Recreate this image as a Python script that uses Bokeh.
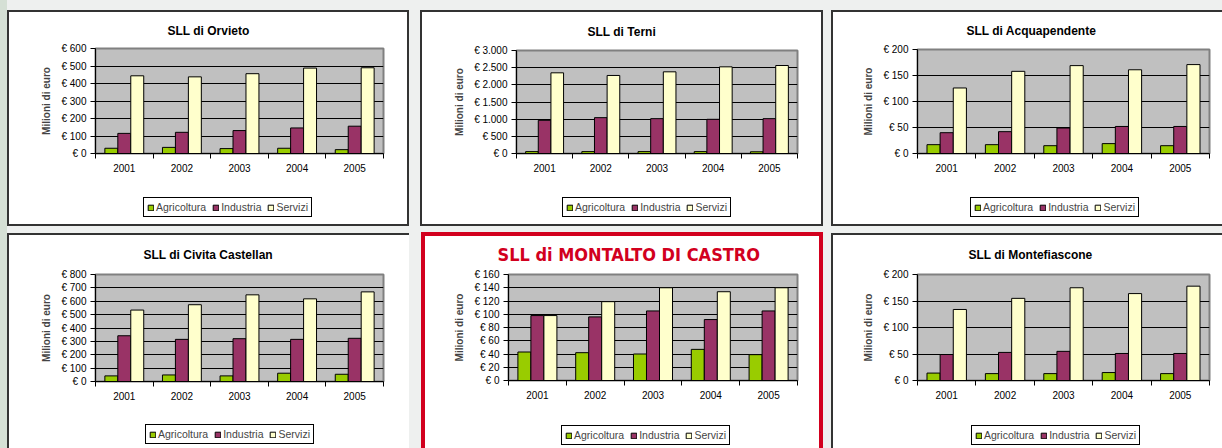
from bokeh.plotting import figure
from bokeh.models import (Range1d, FixedTicker, Legend, LegendItem, ColumnDataSource)
from bokeh.transform import dodge
from bokeh.embed import file_html
from bokeh.resources import INLINE

years = ["2001", "2002", "2003", "2004", "2005"]
series_names = ["Agricoltura", "Industria", "Servizi"]
series_colors = ["#99cc00", "#993366", "#ffffcc"]

orvieto_agricoltura = [30, 35, 28, 30, 22]
orvieto_industria = [115, 121, 131, 146, 156]
orvieto_servizi = [444, 438, 456, 488, 490]
orvieto_ticks = [0, 100, 200, 300, 400, 500, 600]
orvieto_labels = ["€ 0", "€ 100", "€ 200", "€ 300", "€ 400", "€ 500", "€ 600"]

terni_agricoltura = [55, 55, 55, 55, 50]
terni_industria = [967, 1044, 1015, 996, 1015]
terni_servizi = [2350, 2273, 2379, 2524, 2563]
terni_ticks = [0, 500, 1000, 1500, 2000, 2500, 3000]
terni_labels = ["€ 0", "€ 500", "€ 1.000", "€ 1.500", "€ 2.000", "€ 2.500", "€ 3.000"]

acquapendente_agricoltura = [17, 17, 15, 19, 15]
acquapendente_industria = [40, 42, 49, 52, 52]
acquapendente_servizi = [126, 158, 169, 161, 171]
acquapendente_ticks = [0, 50, 100, 150, 200]
acquapendente_labels = ["€ 0", "€ 50", "€ 100", "€ 150", "€ 200"]

civita_agricoltura = [42, 49, 42, 62, 54]
civita_industria = [342, 315, 320, 315, 323]
civita_servizi = [534, 574, 648, 618, 670]
civita_ticks = [0, 100, 200, 300, 400, 500, 600, 700, 800]
civita_labels = ["€ 0", "€ 100", "€ 200", "€ 300", "€ 400", "€ 500", "€ 600", "€ 700", "€ 800"]

montalto_agricoltura = [43, 42, 40, 47, 39]
montalto_industria = [98, 96, 105, 92, 105]
montalto_servizi = [98, 119, 140, 134, 140]
montalto_ticks = [0, 20, 40, 60, 80, 100, 120, 140, 160]
montalto_labels = ["€ 0", "€ 20", "€ 40", "€ 60", "€ 80", "€ 100", "€ 120", "€ 140", "€ 160"]

montefiascone_agricoltura = [14, 13, 13, 15, 13]
montefiascone_industria = [49, 53, 55, 51, 51]
montefiascone_servizi = [134, 155, 175, 164, 178]
montefiascone_ticks = [0, 50, 100, 150, 200]
montefiascone_labels = ["€ 0", "€ 50", "€ 100", "€ 150", "€ 200"]

FONT = "Liberation Sans"
NARROW = "Liberation Sans Narrow, DejaVu Sans Condensed, sans-serif"
BORDER = "#333333"
RED = "#d2001e"
PAGE_BG = "linear-gradient(to right, #d5e0d5 7px, #eef0ef 7px)"


def shadow(color, width, sides):
    parts = []
    if "l" in sides:
        parts.append(f"inset {width}px 0 0 0 {color}")
    if "t" in sides:
        parts.append(f"inset 0 {width}px 0 0 {color}")
    if "r" in sides:
        parts.append(f"inset -{width}px 0 0 0 {color}")
    if "b" in sides:
        parts.append(f"inset 0 -{width}px 0 0 {color}")
    return ", ".join(parts)


def make_panel(title, agri, ind, serv, ticks, labels, left, top, w, h, fl, fw, ft, fh,
               title_left, title_gap, sides, border_color=BORDER, border_w=2,
               title_font=FONT, title_size="12px", title_color="black"):
    n = len(years)
    src = ColumnDataSource(dict(x=[i + 0.5 for i in range(n)], a=agri, b=ind, c=serv))
    p = figure(width=w, height=h, x_range=Range1d(0, n),
               y_range=Range1d(ticks[0], ticks[-1]),
               output_backend="svg", toolbar_location=None,
               min_border_left=fl, min_border_right=w - fl - fw,
               min_border_top=ft, min_border_bottom=h - ft - fh,
               border_fill_alpha=0, background_fill_color="#c0c0c0",
               outline_line_color="#808080", outline_line_width=2,
               styles={"position": "absolute", "left": f"{left}px", "top": f"{top}px",
                       "background-color": "white",
                       "box-shadow": shadow(border_color, border_w, sides)})
    bw = 0.225
    for col, off, color in zip(["a", "b", "c"], [-bw, 0, bw], series_colors):
        p.vbar(x=dodge("x", off, range=p.x_range), top=col, width=bw,
               source=src, fill_color=color, line_color="black", line_width=1)

    # x axis: year labels at category centres, tick marks at category boundaries
    xt = FixedTicker(ticks=[i + 0.5 for i in range(n)], minor_ticks=list(range(n + 1)))
    p.xaxis.ticker = xt
    p.xaxis.major_label_overrides = {i + 0.5: y for i, y in enumerate(years)}
    p.xaxis.major_tick_out = 0
    p.xaxis.major_tick_in = 0
    p.xaxis.minor_tick_out = 5
    p.xaxis.minor_tick_in = 0
    p.xaxis.minor_tick_line_color = "black"
    p.xaxis.major_label_standoff = 5
    p.xgrid.visible = False

    yt = FixedTicker(ticks=ticks, minor_ticks=[])
    p.yaxis.ticker = yt
    p.yaxis.major_label_overrides = {t: l for t, l in zip(ticks, labels)}
    p.yaxis.major_tick_out = 5
    p.yaxis.major_tick_in = 0
    p.yaxis.major_label_standoff = 4
    p.yaxis.axis_label = "Milioni di euro"
    p.yaxis.axis_label_text_font = FONT
    p.yaxis.axis_label_text_font_style = "bold"
    p.yaxis.axis_label_text_font_size = "10px"
    p.yaxis.axis_label_standoff = 6
    p.ygrid.ticker = yt
    p.ygrid.grid_line_color = "black"
    p.ygrid.grid_line_width = 1

    for ax in (p.xaxis, p.yaxis):
        ax.axis_line_color = "black"
        ax.major_tick_line_color = "black"
        ax.major_label_text_font = FONT
        ax.major_label_text_font_size = "10px"
        ax.major_label_text_color = "black"

    p.title.text = title
    p.title.align = "left"
    p.title.offset = title_left - fl
    p.title.standoff = title_gap
    p.title.text_font = title_font
    p.title.text_font_style = "bold"
    p.title.text_font_size = title_size
    p.title.text_color = title_color
    return p, src


def make_legend(src, left, top):
    # the bars of this small figure lie outside its x range; only its legend shows
    lf = figure(width=200, height=20, x_range=Range1d(-20, -19), y_range=Range1d(0, 1),
                x_axis_type=None, y_axis_type=None, output_backend="svg",
                toolbar_location=None, min_border=0, outline_line_color=None,
                background_fill_alpha=0, border_fill_alpha=0,
                styles={"position": "absolute", "left": f"{left}px", "top": f"{top}px"})
    rends = []
    for col, color in zip(["a", "b", "c"], series_colors):
        rends.append(lf.vbar(x="x", top=col, width=0.2, source=src, fill_color=color,
                             line_color="black", line_width=1))
    items = [LegendItem(label=nm, renderers=[r]) for nm, r in zip(series_names, rends)]
    leg = Legend(items=items, orientation="horizontal", location="top_left", margin=0,
                 label_text_font=FONT, label_text_font_size="10.5px",
                 glyph_width=7, glyph_height=7, label_standoff=2, spacing=6,
                 padding=3, label_height=12, label_width=10,
                 border_line_color="black", border_line_width=1, border_line_alpha=1,
                 background_fill_color="white", background_fill_alpha=1)
    lf.add_layout(leg)
    return lf


p1, s1 = make_panel("SLL di Orvieto", orvieto_agricoltura, orvieto_industria, orvieto_servizi,
                    orvieto_ticks, orvieto_labels, 7, 10, 402, 216, 88, 288, 38, 105,
                    160, 21, "ltrb")
p2, s2 = make_panel("SLL di Terni", terni_agricoltura, terni_industria, terni_servizi,
                    terni_ticks, terni_labels, 420, 10, 403, 216, 96, 281, 40, 103,
                    167, 24, "ltrb")
p3, s3 = make_panel("SLL di Acquapendente", acquapendente_agricoltura, acquapendente_industria,
                    acquapendente_servizi, acquapendente_ticks, acquapendente_labels,
                    831, 10, 391, 216, 86, 292, 39, 104, 135, 23, "ltb")
p4, s4 = make_panel("SLL di Civita Castellan", civita_agricoltura, civita_industria,
                    civita_servizi, civita_ticks, civita_labels, 7, 233, 402, 215,
                    88, 288, 40, 108, 136, 25, "lt")
p5, s5 = make_panel("SLL di MONTALTO DI CASTRO", montalto_agricoltura, montalto_industria,
                    montalto_servizi, montalto_ticks, montalto_labels,
                    421, 232, 402, 216, 87, 289, 41, 107, 76, 19, "ltr",
                    border_color=RED, border_w=4, title_font=NARROW,
                    title_size="18px", title_color=RED)
p6, s6 = make_panel("SLL di Montefiascone", montefiascone_agricoltura, montefiascone_industria,
                    montefiascone_servizi, montefiascone_ticks, montefiascone_labels,
                    831, 233, 391, 215, 86, 292, 40, 107, 137, 25, "lt")

legends = [make_legend(s1, 143, 197), make_legend(s2, 562, 197), make_legend(s3, 970, 197),
           make_legend(s4, 145, 424), make_legend(s5, 561, 425), make_legend(s6, 971, 425)]

html = file_html([p1, p2, p3, p4, p5, p6] + legends, INLINE)
html = html.replace("<head>", "<head><style>body{background:" + PAGE_BG + ";overflow:hidden;}</style>", 1)
open("out.html", "w").write(html)
